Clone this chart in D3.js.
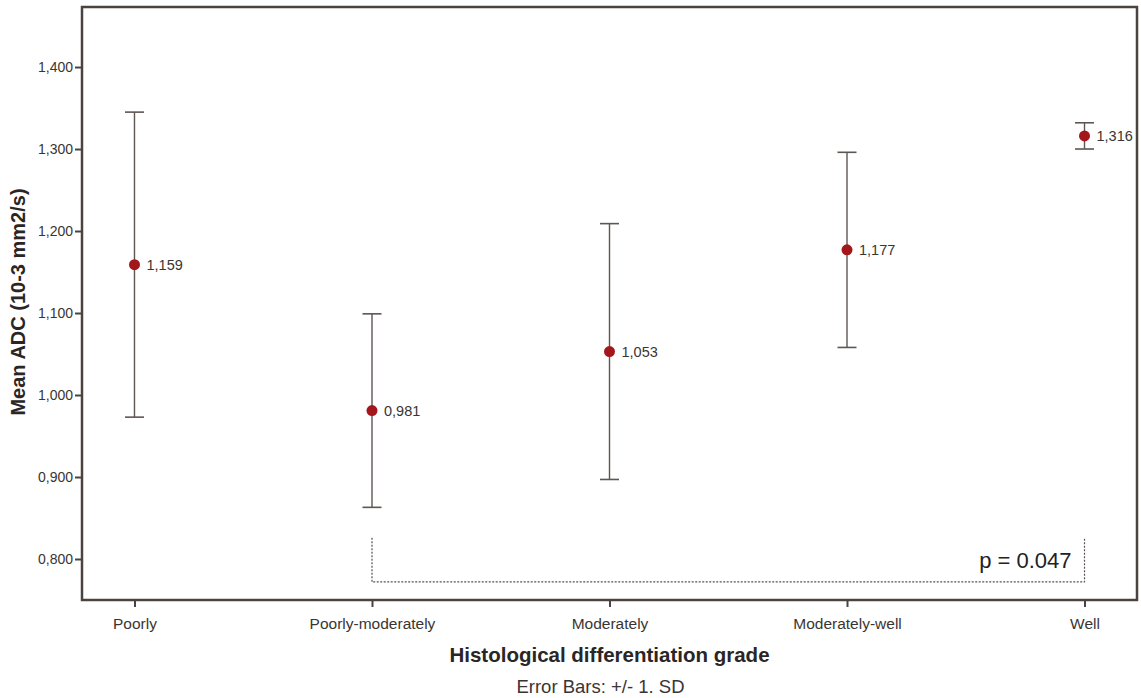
<!DOCTYPE html>
<html>
<head>
<meta charset="utf-8">
<script src="https://cdn.jsdelivr.net/npm/d3@7"></script>
<style>
  body { margin: 0; background: #fff; }
  text { font-family: "Liberation Sans", Arial, sans-serif; fill: #3a3533; }
</style>
</head>
<body>
<div id="chart"></div>
<script>
// grades and mean ADC values (10-3 mm2/s)
const grades = ["Poorly", "Poorly-moderately", "Moderately", "Moderately-well", "Well"];
const means = [1.159, 0.981, 1.053, 1.177, 1.316];
const meanLabels = ["1,159", "0,981", "1,053", "1,177", "1,316"];
const sds = [0.186, 0.118, 0.156, 0.119, 0.016];
const yTicks = [0.8, 0.9, 1.0, 1.1, 1.2, 1.3, 1.4];
const yTickLabels = ["0,800", "0,900", "1,000", "1,100", "1,200", "1,300", "1,400"];

// bracket between Poorly-moderately and Well
const bracketFrom = "Poorly-moderately";
const bracketTo = "Well";
const bracketTop = 0.826;
const bracketBottom = 0.772;
const pText = "p = 0.047";

const W = 1141, H = 698;
const margin = { top: 7, right: 4, bottom: 98, left: 82 };

const svg = d3.select("#chart").append("svg")
    .attr("width", W)
    .attr("height", H);

const x = d3.scalePoint()
    .domain(grades)
    .range([margin.left, W - margin.right])
    .padding(0.221);

const y = d3.scaleLinear()
    .domain([0.75, 1.4732])
    .range([H - margin.bottom, margin.top]);

const axisColor = "#4a433f";
const barColor = "#5e5652";

// y axis
const yAxis = svg.append("g")
    .attr("transform", `translate(${margin.left},0)`)
    .call(d3.axisLeft(y).tickValues(yTicks).tickSize(7).tickFormat((d, i) => yTickLabels[i]));
yAxis.select(".domain").remove();
yAxis.selectAll("line").attr("stroke", axisColor).attr("stroke-width", 2);
yAxis.selectAll("text").style("font-size", "14px").attr("x", -9);

// x axis
const xAxis = svg.append("g")
    .attr("transform", `translate(0,${H - margin.bottom})`)
    .call(d3.axisBottom(x).tickSize(7));
xAxis.select(".domain").remove();
xAxis.selectAll("line").attr("stroke", axisColor).attr("stroke-width", 2);
xAxis.selectAll("text").style("font-size", "15.5px").attr("y", 18);

// frame
svg.append("rect")
    .attr("x", margin.left)
    .attr("y", margin.top)
    .attr("width", W - margin.left - margin.right)
    .attr("height", H - margin.top - margin.bottom)
    .attr("fill", "none")
    .attr("stroke", axisColor)
    .attr("stroke-width", 2.5);

// error bars
const bars = svg.append("g");
grades.forEach((g, i) => {
    const cx = x(g);
    const lo = y(means[i] - sds[i]);
    const hi = y(means[i] + sds[i]);
    bars.append("line").attr("x1", cx).attr("x2", cx).attr("y1", lo).attr("y2", hi)
        .attr("stroke", barColor).attr("stroke-width", 1.4);
    [lo, hi].forEach(v => {
        bars.append("line").attr("x1", cx - 9.5).attr("x2", cx + 9.5).attr("y1", v).attr("y2", v)
            .attr("stroke", barColor).attr("stroke-width", 1.6);
    });
});

// means
svg.selectAll(".dot")
    .data(means)
    .enter().append("circle")
    .attr("class", "dot")
    .attr("cx", (d, i) => x(grades[i]))
    .attr("cy", d => y(d))
    .attr("r", 5.5)
    .attr("fill", "#a3161a");

svg.selectAll(".val")
    .data(means)
    .enter().append("text")
    .attr("class", "val")
    .attr("x", (d, i) => x(grades[i]) + 12)
    .attr("y", d => y(d) + 5.5)
    .style("font-size", "14.5px")
    .text((d, i) => meanLabels[i]);

// significance bracket
const bx1 = x(bracketFrom), bx2 = x(bracketTo);
svg.append("path")
    .attr("d", `M${bx1},${y(bracketTop)}V${y(bracketBottom)}H${bx2}V${y(bracketTop)}`)
    .attr("fill", "none")
    .attr("stroke", "#5a5250")
    .attr("stroke-width", 1.2)
    .attr("stroke-dasharray", "2,1.5");

svg.append("text")
    .attr("x", bx2 - 13)
    .attr("y", y((bracketTop + bracketBottom) / 2) + 8)
    .attr("text-anchor", "end")
    .style("font-size", "22px")
    .style("fill", "#222")
    .text(pText);

// titles
const plotMid = (margin.left + W - margin.right) / 2;
svg.append("text")
    .attr("x", plotMid)
    .attr("y", 662)
    .attr("text-anchor", "middle")
    .style("font-size", "20.5px")
    .style("font-weight", "bold")
    .style("fill", "#2a2625")
    .text("Histological differentiation grade");

svg.append("text")
    .attr("x", plotMid - 9)
    .attr("y", 693)
    .attr("text-anchor", "middle")
    .style("font-size", "18.5px")
    .text("Error Bars: +/- 1. SD");

svg.append("text")
    .attr("transform", `translate(25,302) rotate(-90)`)
    .attr("text-anchor", "middle")
    .style("font-size", "20px")
    .style("font-weight", "bold")
    .style("fill", "#2a2625")
    .text("Mean ADC (10-3 mm2/s)");
</script>
</body>
</html>
